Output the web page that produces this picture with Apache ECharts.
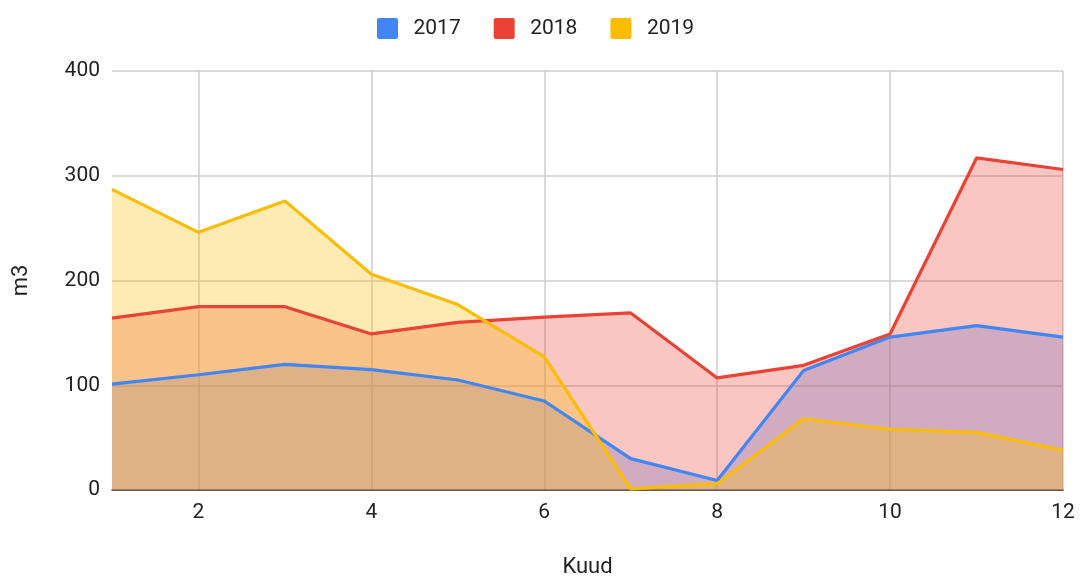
<!DOCTYPE html>
<html>
<head>
<meta charset="utf-8">
<script src="https://cdn.jsdelivr.net/npm/echarts@6/dist/echarts.min.js"></script>
<style>html,body{margin:0;padding:0;background:#fff;}#c{width:1080px;height:579px;}</style>
</head>
<body>
<div id="c"></div>
<script>
const months = [1,2,3,4,5,6,7,8,9,10,11,12];
const seriesNames = ['2017','2018','2019'];
const v2017 = [101,110,120,115,105,85,30,9,114,146,157,146];
const v2018 = [164,175,175,149,160,165,169,107,119,149,317,306];
const v2019 = [287,246,276,206,177,127,1,6,68,58,55,38];
const yTicks = [0,100,200,300,400];
const colors = ['#4285F4','#EA4335','#FBBC04'];

const allValues = [v2017, v2018, v2019];
const chart = echarts.init(document.getElementById('c'));
const font = 'Roboto, Arial, sans-serif';
const icon = 'path://M2,0 H18 A2,2 0 0 1 20,2 V18 A2,2 0 0 1 18,20 H2 A2,2 0 0 1 0,18 V2 A2,2 0 0 1 2,0 Z';

const areaSeries = seriesNames.map((n, i) => ({
  name: 'area' + n, type: 'line', showSymbol: false, symbol: 'none',
  data: months.map((m, j) => [m, allValues[i][j]]),
  lineStyle: {width: 0, opacity: 0},
  areaStyle: {color: colors[i], opacity: 0.3},
  z: 2
}));
const lineSeries = seriesNames.map((n, i) => ({
  name: n, type: 'line', showSymbol: false, symbol: 'none',
  data: months.map((m, j) => [m, allValues[i][j]]),
  lineStyle: {width: 3.2, color: colors[i]},
  itemStyle: {color: colors[i]},
  z: 3
}));

chart.setOption({
  animation: false,
  color: colors,
  legend: {
    top: 13, left: 372,
    itemWidth: 22, itemHeight: 21, itemGap: 33,
    icon: icon,
    textStyle: {fontFamily: font, fontSize: 21, color: '#222', padding: [0,0,0,10]},
    data: seriesNames
  },
  grid: {left: 112, right: 17, top: 71, bottom: 89, containLabel: false, outerBoundsMode: 'none'},
  xAxis: {
    type: 'value', min: 1, max: 12, splitNumber: 5,
    name: 'Kuud', nameLocation: 'middle', nameGap: 66,
    nameTextStyle: {fontFamily: font, fontSize: 22, color: '#222'},
    axisLine: {show: true, lineStyle: {color: '#333', width: 1.5}},
    axisTick: {show: false},
    axisLabel: {fontFamily: font, fontSize: 21, color: '#222', margin: 12, showMinLabel: false},
    splitLine: {show: true, showMinLine: false, lineStyle: {color: '#cccccc', width: 1.5}}
  },
  yAxis: {
    type: 'value', min: yTicks[0], max: yTicks[yTicks.length-1], interval: 100,
    name: 'm3', nameLocation: 'middle', nameGap: 80,
    nameTextStyle: {fontFamily: font, fontSize: 22, color: '#222'},
    axisLine: {show: false}, axisTick: {show: false},
    axisLabel: {fontFamily: font, fontSize: 21, color: '#222', margin: 12},
    splitLine: {lineStyle: {color: '#cccccc', width: 1.5}}
  },
  series: areaSeries.concat(lineSeries)
});
</script>
</body>
</html>
